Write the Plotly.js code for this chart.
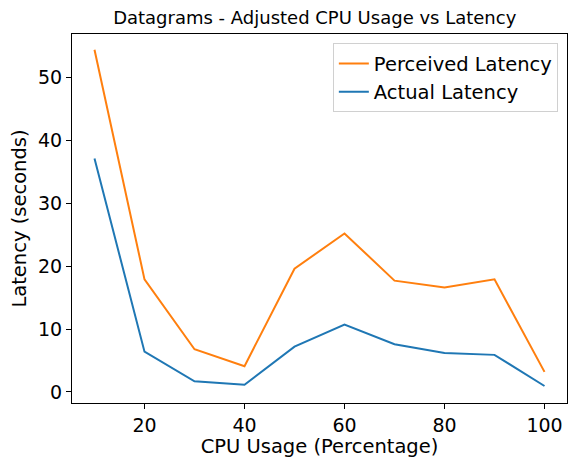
<!DOCTYPE html>
<html>
<head>
<meta charset="utf-8">
<script src="https://cdn.plot.ly/plotly-3.0.1.min.js"></script>
<style>html,body{margin:0;padding:0;background:#fff;}#chart{width:581px;height:458px;}</style>
</head>
<body>
<div id="chart"></div>
<script>
const cpuUsage = [10, 20, 30, 40, 50, 60, 70, 80, 90, 100];
const perceivedLatency = [54.4, 17.9, 6.8, 4.1, 19.6, 25.2, 17.7, 16.6, 17.9, 3.2];
const actualLatency = [37.1, 6.4, 1.7, 1.16, 7.2, 10.7, 7.6, 6.2, 5.9, 0.95];
const xTicks = [20, 40, 60, 80, 100];
const yTicks = [0, 10, 20, 30, 40, 50];

const font = "DejaVu Sans, sans-serif";
const traces = [
  {x: cpuUsage, y: perceivedLatency, mode: 'lines', name: 'Perceived Latency',
   line: {color: '#ff7f0e', width: 2}},
  {x: cpuUsage, y: actualLatency, mode: 'lines', name: 'Actual Latency',
   line: {color: '#1f77b4', width: 2}}
];
const axisCommon = {
  showgrid: false, zeroline: false, showline: true, mirror: true,
  linecolor: '#000', linewidth: 1, ticks: 'outside', ticklen: 5, tickwidth: 1,
  tickcolor: '#000', tickfont: {family: font, size: 19, color: '#000'}
};
const layout = {
  width: 581, height: 458,
  margin: {l: 72, r: 14, t: 34, b: 55},
  paper_bgcolor: '#fff', plot_bgcolor: '#fff',
  title: {text: 'Datagrams - Adjusted CPU Usage vs Latency', font: {family: font, size: 18, color: '#000'},
          x: 0.5417, xanchor: 'center', y: 0.962, yanchor: 'middle'},
  xaxis: Object.assign({}, axisCommon, {range: [5.5, 104.5], tickvals: xTicks,
    title: {text: 'CPU Usage (Percentage)', font: {family: font, size: 19.5, color: '#000'}, standoff: 5}}),
  yaxis: Object.assign({}, axisCommon, {range: [-1.75, 56.9], tickvals: yTicks,
    title: {text: 'Latency (seconds)', font: {family: font, size: 19.5, color: '#000'}, standoff: 6}}),
  legend: {x: 0.9815, xanchor: 'right', y: 0.975, yanchor: 'top',
    bordercolor: '#d0d0d0', borderwidth: 1, bgcolor: 'rgba(255,255,255,0.8)',
    font: {family: font, size: 19.5, color: '#000'}},
  showlegend: true
};
Plotly.newPlot('chart', traces, layout, {displayModeBar: false, staticPlot: true});
</script>
</body>
</html>
